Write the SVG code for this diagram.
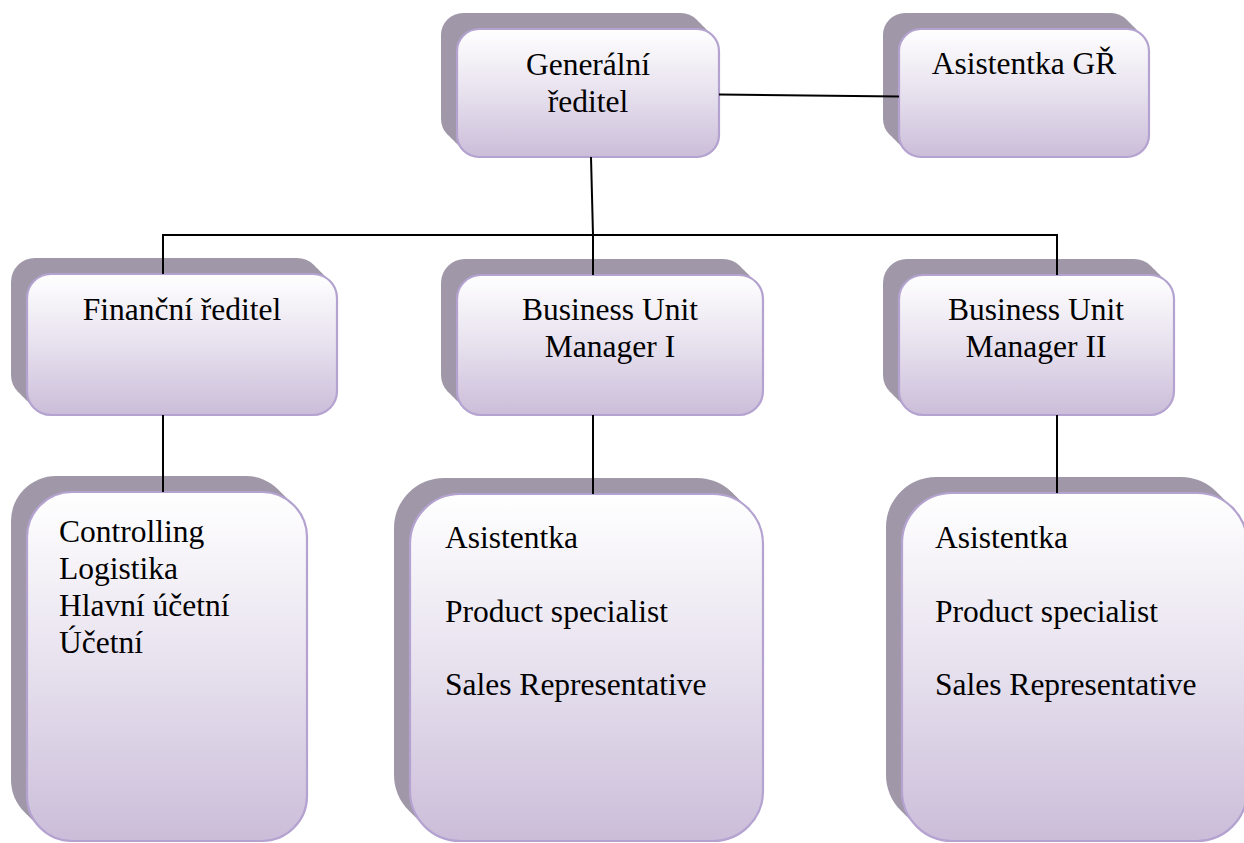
<svg xmlns="http://www.w3.org/2000/svg" width="1244" height="843" viewBox="0 0 1244 843">
<defs>
<linearGradient id="g" x1="0" y1="0" x2="0" y2="1">
<stop offset="0" stop-color="#ffffff"/>
<stop offset="0.5" stop-color="#e7e1ee"/>
<stop offset="1" stop-color="#cbbdd9"/>
</linearGradient>
</defs>
<style>
.sh{fill:#a098a8;stroke:none}
.fr{fill:url(#g);stroke:#b4a2d0;stroke-width:2.2}
.t{font-size:31.5px;fill:#000}
.c{text-anchor:middle}
.ln{stroke:#000;stroke-width:2;fill:none}
</style>
<rect width="1244" height="843" fill="#fff"/>

<g font-family="'Liberation Serif', 'Times New Roman', 'DejaVu Serif', serif">
<g id="node-gr">
<g class="sh"><rect x="441" y="13" width="262" height="128" rx="22"/><rect x="445" y="17" width="262" height="128" rx="22"/><rect x="449" y="21" width="262" height="128" rx="22"/><rect x="453" y="25" width="262" height="128" rx="22"/></g>
<rect class="fr" x="457" y="29" width="262" height="128" rx="22"/>
<text class="t c" x="588" y="75">Generální</text>
<text class="t c" x="588" y="112">ředitel</text>
</g>

<g id="node-agr">
<g class="sh"><rect x="883" y="13" width="250" height="128" rx="22"/><rect x="887" y="17" width="250" height="128" rx="22"/><rect x="891" y="21" width="250" height="128" rx="22"/><rect x="895" y="25" width="250" height="128" rx="22"/></g>
<rect class="fr" x="899" y="29" width="250" height="128" rx="22"/>
<text class="t c" x="1024" y="74">Asistentka GŘ</text>
</g>

<g id="node-fin">
<g class="sh"><rect x="11" y="258" width="310" height="141" rx="24"/><rect x="15" y="262" width="310" height="141" rx="24"/><rect x="19" y="266" width="310" height="141" rx="24"/><rect x="23" y="270" width="310" height="141" rx="24"/></g>
<rect class="fr" x="27" y="274" width="310" height="141" rx="24"/>
<text class="t c" x="182" y="320">Finanční ředitel</text>
</g>

<g id="node-bum1">
<g class="sh"><rect x="441" y="259" width="306" height="140" rx="24"/><rect x="445" y="263" width="306" height="140" rx="24"/><rect x="449" y="267" width="306" height="140" rx="24"/><rect x="453" y="271" width="306" height="140" rx="24"/></g>
<rect class="fr" x="457" y="275" width="306" height="140" rx="24"/>
<text class="t c" x="610" y="320">Business Unit</text>
<text class="t c" x="610" y="357">Manager I</text>
</g>

<g id="node-bum2">
<g class="sh"><rect x="883" y="259" width="275" height="140" rx="24"/><rect x="887" y="263" width="275" height="140" rx="24"/><rect x="891" y="267" width="275" height="140" rx="24"/><rect x="895" y="271" width="275" height="140" rx="24"/></g>
<rect class="fr" x="899" y="275" width="275" height="140" rx="24"/>
<text class="t c" x="1036" y="320">Business Unit</text>
<text class="t c" x="1036" y="357">Manager II</text>
</g>

<g id="node-ctrl">
<g class="sh"><rect x="11" y="476" width="280" height="349" rx="45"/><rect x="15" y="480" width="280" height="349" rx="45"/><rect x="19" y="484" width="280" height="349" rx="45"/><rect x="23" y="488" width="280" height="349" rx="45"/></g>
<rect class="fr" x="27" y="492" width="280" height="349" rx="45"/>
<text class="t" x="59" y="542">Controlling</text>
<text class="t" x="59" y="579">Logistika</text>
<text class="t" x="59" y="616">Hlavní účetní</text>
<text class="t" x="59" y="653">Účetní</text>
</g>

<g id="node-team1">
<g class="sh"><rect x="394" y="478" width="353" height="347" rx="50"/><rect x="398" y="482" width="353" height="347" rx="50"/><rect x="402" y="486" width="353" height="347" rx="50"/><rect x="406" y="490" width="353" height="347" rx="50"/></g>
<rect class="fr" x="410" y="494" width="353" height="347" rx="50"/>
<text class="t" x="445" y="548">Asistentka</text>
<text class="t" x="445" y="622">Product specialist</text>
<text class="t" x="445" y="695">Sales Representative</text>
</g>

<g id="node-team2">
<g class="sh"><rect x="886" y="477" width="345" height="348" rx="50"/><rect x="890" y="481" width="345" height="348" rx="50"/><rect x="894" y="485" width="345" height="348" rx="50"/><rect x="898" y="489" width="345" height="348" rx="50"/></g>
<rect class="fr" x="902" y="493" width="345" height="348" rx="50"/>
<text class="t" x="935" y="548">Asistentka</text>
<text class="t" x="935" y="622">Product specialist</text>
<text class="t" x="935" y="695">Sales Representative</text>
</g>
</g>

<g id="connectors" class="ln">
<line x1="719" y1="94.5" x2="899" y2="96.5"/>
<polyline points="591,157 593,235 593,275"/>
<line x1="163" y1="235" x2="1057" y2="235"/>
<line x1="163" y1="234" x2="163" y2="274"/>
<line x1="1057" y1="234" x2="1057" y2="275"/>
<line x1="163" y1="415" x2="163" y2="492"/>
<line x1="593" y1="415" x2="593" y2="494"/>
<line x1="1057" y1="415" x2="1057" y2="493"/>
</g>
</svg>
